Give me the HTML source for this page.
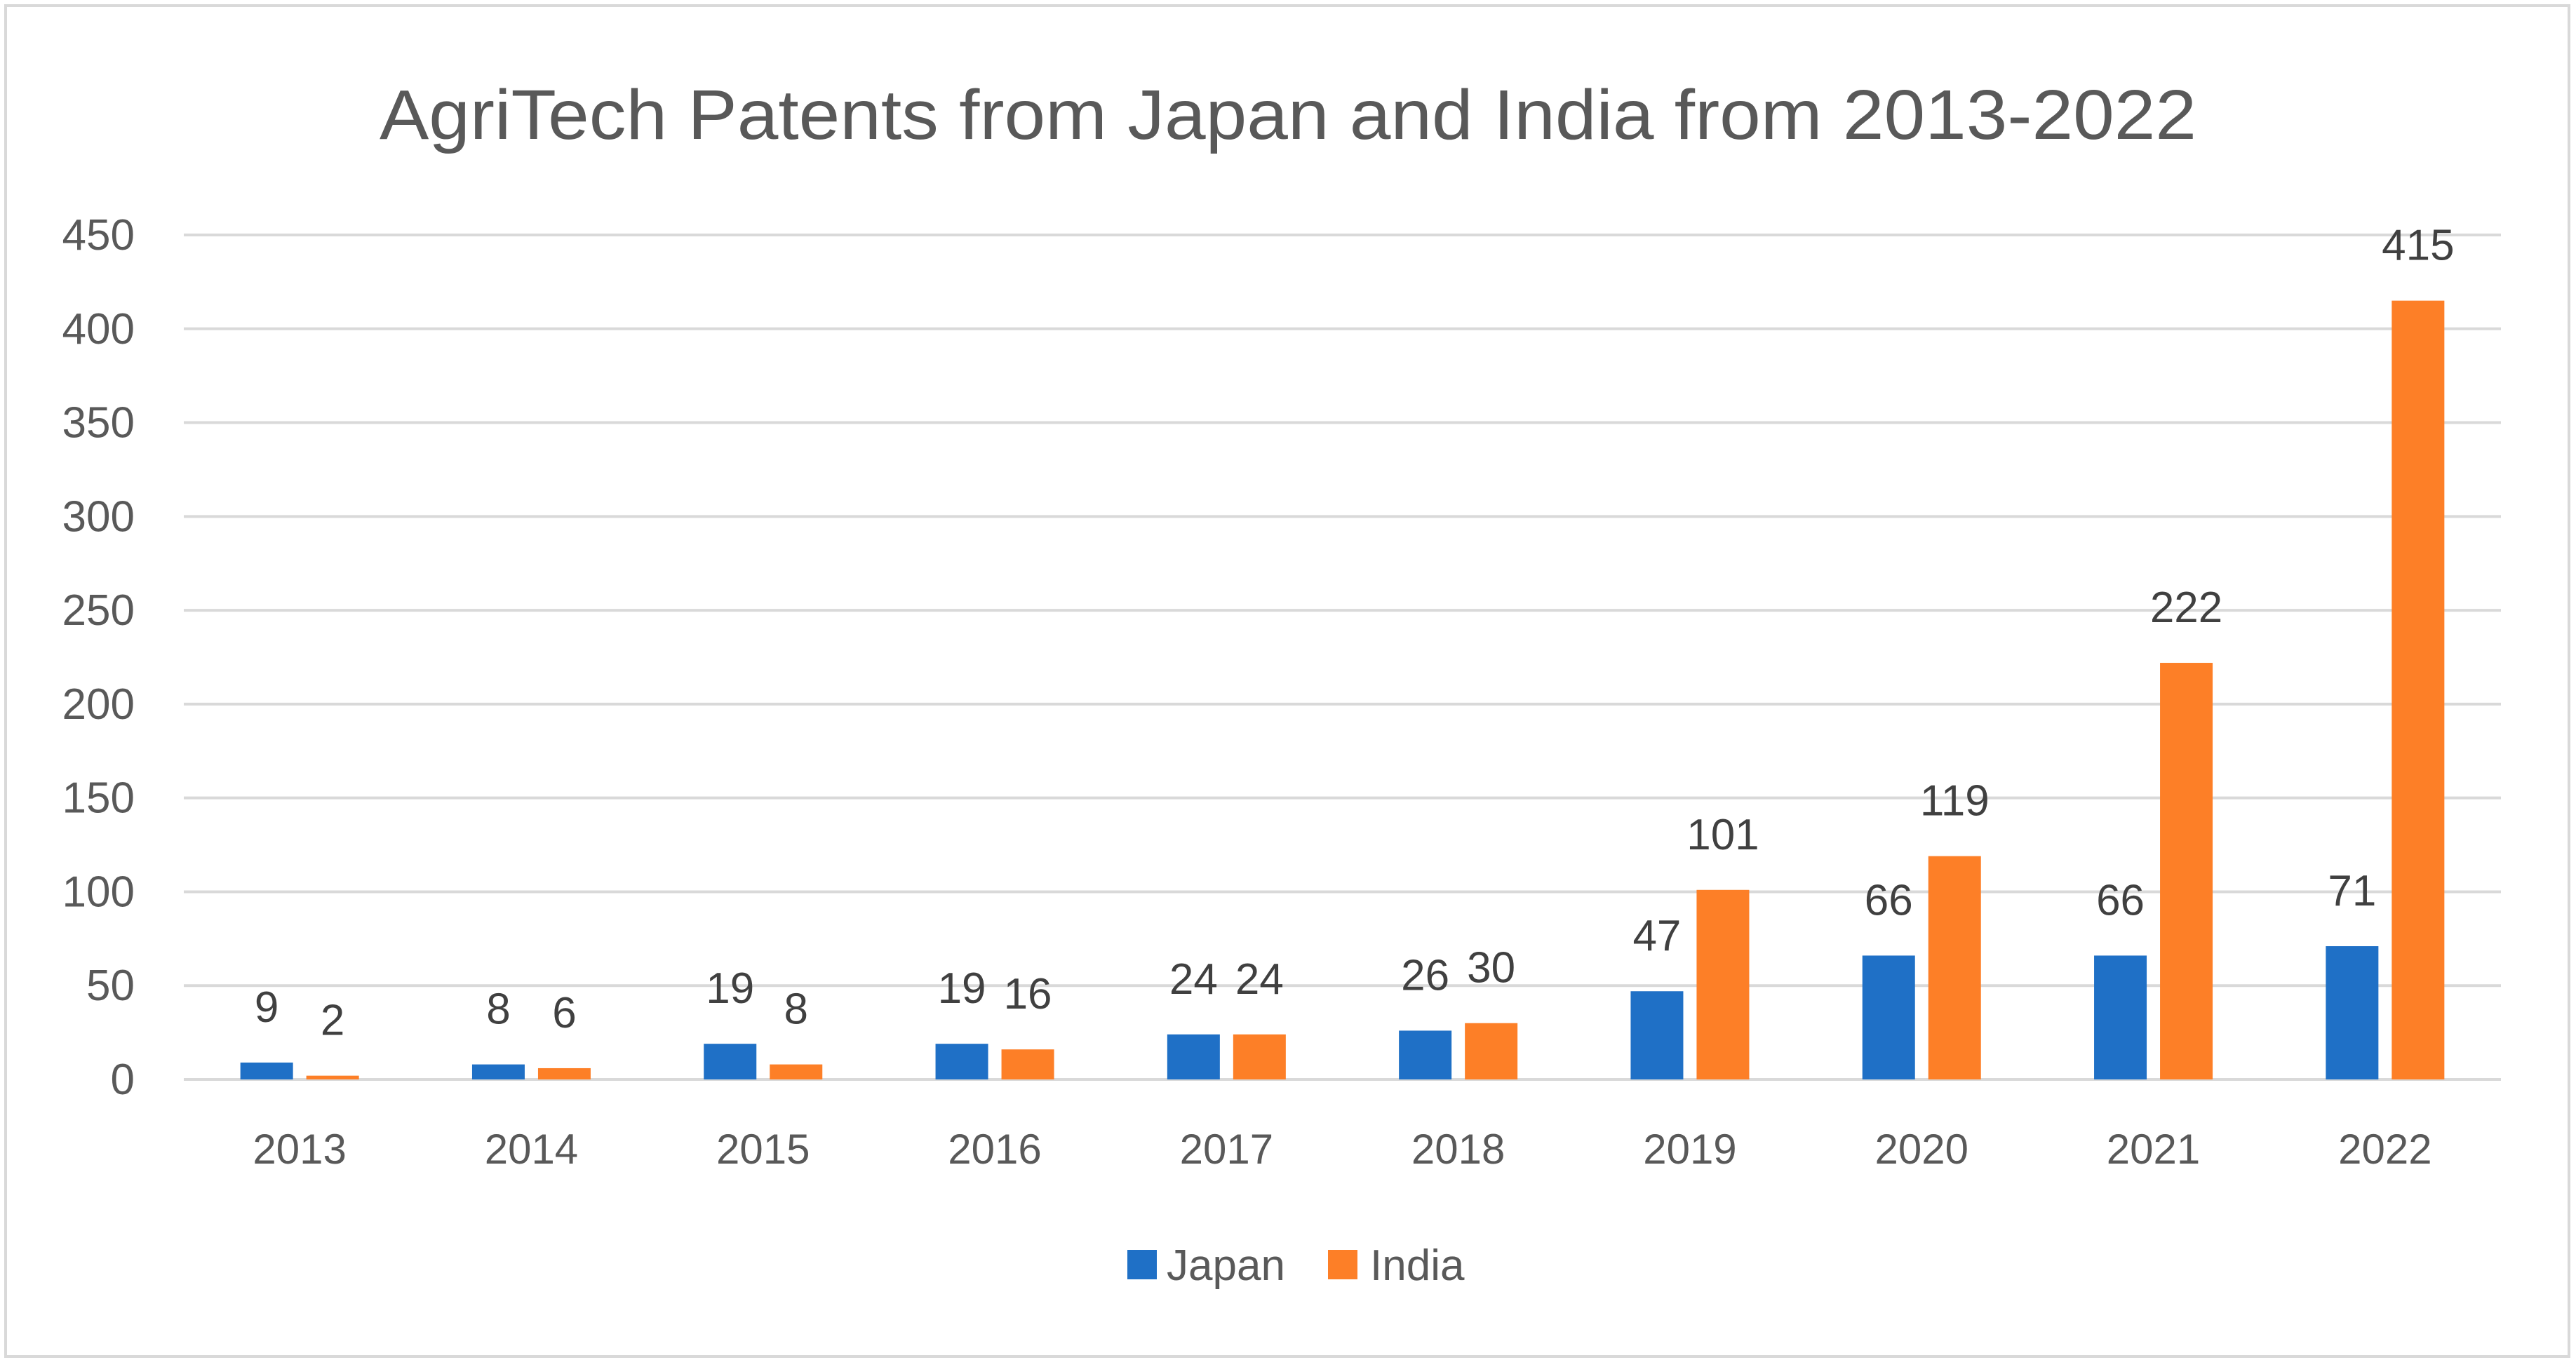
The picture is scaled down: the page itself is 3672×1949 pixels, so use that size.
<!DOCTYPE html>
<html><head><meta charset="utf-8"><style>
html,body{margin:0;padding:0;background:#fff;}
svg{display:block;font-family:"Liberation Sans",sans-serif;}
</style></head><body>
<svg id="chart" width="3672" height="1949" viewBox="0 0 3672 1949">
<rect x="8" y="8" width="3654" height="1926" fill="#fff" stroke="#d9d9d9" stroke-width="4"/>
<text x="1836" y="198" text-anchor="middle" font-size="100" textLength="2590" lengthAdjust="spacingAndGlyphs" fill="#595959">AgriTech Patents from Japan and India from 2013-2022</text>
<g id="grid"></g><g id="bars"></g><g id="labels"></g>
<g>
<rect x="1607" y="1782" width="42" height="42" fill="#1f70c6"/>
<text x="1663" y="1825" font-size="62" fill="#595959">Japan</text>
<rect x="1893" y="1782" width="42" height="42" fill="#fd7f27"/>
<text x="1953" y="1825" font-size="62" fill="#595959">India</text>
</g>
</svg>
<script>
const categories=["2013","2014","2015","2016","2017","2018","2019","2020","2021","2022"];
const japan=[9,8,19,19,24,26,47,66,66,71];
const india=[2,6,8,16,24,30,101,119,222,415];
const yTicks=[0,50,100,150,200,250,300,350,400,450];
const NS="http://www.w3.org/2000/svg";
const x0=262,x1=3565,yBase=1539,yTop=335,yMax=450;
const step=(x1-x0)/categories.length;
function y(v){return yBase-(v/yMax)*(yBase-yTop);}
function cx(i){return x0+step*(i+0.5);}
function mk(tag,attrs,parent){const e=document.createElementNS(NS,tag);for(const k in attrs)e.setAttribute(k,attrs[k]);parent.appendChild(e);return e;}
const grid=document.getElementById('grid'),bars=document.getElementById('bars'),labels=document.getElementById('labels');
yTicks.forEach(t=>{
 const l=mk('line',{x1:x0,x2:x1,y1:y(t),y2:y(t),stroke:'#d9d9d9','stroke-width':4},grid);
 
 
 const tx=mk('text',{x:192,y:y(t)+21,'text-anchor':'end','font-size':62,fill:'#595959'},grid);
 tx.textContent=t;
 
 
});
const bw=75,gap=19;
categories.forEach((c,i)=>{
 const c0=cx(i);
 [[japan,'#1f70c6','japan',-1],[india,'#fd7f27','india',1]].forEach(([arr,col,nm,s])=>{
  const v=arr[i];
  const bx=s<0?c0-gap/2-bw:c0+gap/2;
  const r=mk('rect',{x:bx,y:y(v),width:bw,height:yBase-y(v),fill:col},bars);
  
  
  const t=mk('text',{x:bx+bw/2,y:y(v)-58,'text-anchor':'middle','font-size':62,fill:'#404040'},labels);
  t.textContent=v;
  
  
 });
 const xt=mk('text',{x:c0,y:1659,'text-anchor':'middle','font-size':60,fill:'#595959'},labels);
 xt.textContent=c;
 
 
});
</script>
</body></html>
